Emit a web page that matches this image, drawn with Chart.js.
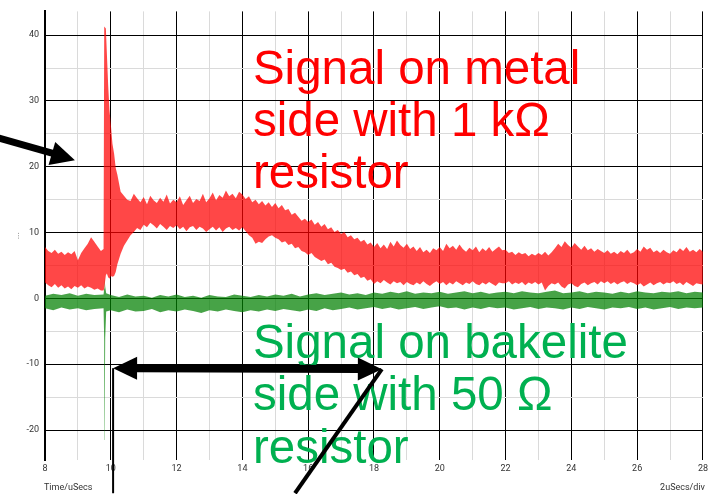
<!DOCTYPE html>
<html>
<head>
<meta charset="utf-8">
<title>Signal on metal and bakelite sides</title>
<script src="https://cdn.jsdelivr.net/npm/chart.js@4.4.1/dist/chart.umd.min.js"></script>
<style>
  html, body { margin: 0; padding: 0; background: #ffffff; }
  #wrap { width: 711px; height: 494px; }
</style>
</head>
<body>
<div id="wrap"><canvas id="scope" width="711" height="494"></canvas></div>
<script>
// Time axis (µs) and min/max envelope of the noisy trace on the metal side (1 kΩ)
const metalTime = [
  8.0, 8.1, 8.2, 8.3, 8.4, 8.5, 8.6, 8.7, 8.8, 8.9,
  9.0, 9.1, 9.2, 9.3, 9.4, 9.5, 9.6, 9.7,
  9.78, 9.8, 9.85, 9.88, 9.92, 9.96, 10.0, 10.05, 10.1, 10.15, 10.2, 10.3, 10.4, 10.5,
  10.6, 10.7, 10.8, 10.9,
  11.0, 11.1, 11.2, 11.3, 11.4, 11.5, 11.6, 11.7, 11.8, 11.9,
  12.0, 12.1, 12.2, 12.3, 12.4, 12.5, 12.6, 12.7, 12.8, 12.9,
  13.0, 13.1, 13.2, 13.3, 13.4, 13.5, 13.6, 13.7, 13.8, 13.9,
  14.0, 14.1, 14.2, 14.3, 14.4, 14.5, 14.6, 14.7, 14.8, 14.9,
  15.0, 15.1, 15.2, 15.3, 15.4, 15.5, 15.6, 15.7, 15.8, 15.9,
  16.0, 16.1, 16.2, 16.3, 16.4, 16.5, 16.6, 16.7, 16.8, 16.9,
  17.0, 17.1, 17.2, 17.3, 17.4, 17.5, 17.6, 17.7, 17.8, 17.9,
  18.0, 18.1, 18.2, 18.3, 18.4, 18.5, 18.6, 18.7, 18.8, 18.9,
  19.0, 19.1, 19.2, 19.3, 19.4, 19.5, 19.6, 19.7, 19.8, 19.9,
  20.0, 20.1, 20.2, 20.3, 20.4, 20.5, 20.6, 20.7, 20.8, 20.9,
  21.0, 21.1, 21.2, 21.3, 21.4, 21.5, 21.6, 21.7, 21.8, 21.9,
  22.0, 22.1, 22.2, 22.3, 22.4, 22.5, 22.6, 22.7, 22.8, 22.9,
  23.0, 23.1, 23.2, 23.3, 23.4, 23.5, 23.6, 23.7, 23.8, 23.9,
  24.0, 24.1, 24.2, 24.3, 24.4, 24.5, 24.6, 24.7, 24.8, 24.9,
  25.0, 25.1, 25.2, 25.3, 25.4, 25.5, 25.6, 25.7, 25.8, 25.9,
  26.0, 26.1, 26.2, 26.3, 26.4, 26.5, 26.6, 26.7, 26.8, 26.9,
  27.0, 27.1, 27.2, 27.3, 27.4, 27.5, 27.6, 27.7, 27.8, 27.9,
  28.0];
const metalUpper = [
  7.8, 7.2, 6.9, 7.4, 6.8, 7.1, 6.6, 7.0, 6.7, 7.2,
  5.8, 6.9, 7.6, 8.3, 9.3, 8.6, 7.9, 7.2,
  7.5, 41.3, 41.0, 37.3, 32.4, 28.6, 26.5, 23.5, 22.0, 19.8, 18.8, 16.2, 15.6, 15.0,
  14.8, 15.9, 15.2, 14.6,
  15.4, 14.3, 15.6, 14.9, 14.5, 15.3, 14.7, 15.8, 14.4, 15.0,
  14.6, 15.5, 14.2, 14.9, 15.6, 14.5, 15.1, 14.8, 15.9, 14.6,
  15.2, 16.1, 14.9, 15.7, 15.3, 16.4, 15.5, 15.9, 15.2, 16.2,
  15.8, 15.1, 15.5, 14.6, 15.0, 14.3, 14.8, 14.1, 14.6, 13.9,
  14.5, 13.7, 14.2, 13.4, 13.6, 12.7, 13.0, 12.4, 11.8, 12.1,
  11.6, 12.0, 11.2, 11.6, 10.9, 11.3, 10.5, 10.8, 10.1, 10.4,
  9.8, 10.1, 9.3, 9.6, 9.0, 9.2, 8.6, 8.9, 8.2, 8.5,
  7.8, 8.4, 7.6, 8.2, 7.5, 8.6, 7.9, 8.8, 8.1, 7.7,
  8.3, 7.5, 7.9, 7.2, 7.8, 7.0, 7.4, 6.9, 7.6, 7.3,
  7.8, 7.2, 8.3, 7.6, 8.0, 7.4, 8.2, 7.5, 7.1, 7.7,
  7.3, 7.9, 7.0, 7.6, 7.2, 7.8, 7.1, 7.5, 7.9, 7.3,
  7.4, 6.9, 7.1, 6.6, 7.0, 6.7, 6.9, 6.4, 6.8, 6.5,
  6.9, 6.6, 7.1, 6.5, 7.0, 7.6, 8.3, 7.8, 8.7, 8.1,
  7.7, 8.4, 7.9, 7.4, 8.0, 7.3, 7.6, 7.1, 7.5, 7.2,
  6.9, 7.3, 6.8, 7.1, 6.7, 7.2, 6.9, 7.4, 6.8, 7.0,
  7.5, 7.1, 7.9, 7.4, 7.7, 7.0, 7.3, 6.9, 7.4, 7.0,
  6.8, 7.3, 7.0, 7.6, 7.2, 7.8, 7.1, 7.4, 7.0, 7.5,
  7.1];
const metalLower = [
  2.4, 2.0, 1.7, 2.2, 1.6, 2.0, 1.5, 1.8, 1.4, 1.9,
  1.6, 2.0, 1.5, 1.8, 1.6, 1.3, 1.5, 1.2,
  1.2, 1.5, 3.5, 3.8, 3.2, 3.0, 3.4, 3.3, 3.4, 4.0, 5.2, 6.8, 8.0, 8.8,
  9.6, 10.1, 10.7, 10.4,
  11.2, 10.8, 11.5, 11.1, 10.6, 11.3, 10.9, 10.4, 11.0, 10.7,
  11.1, 10.5, 10.9, 10.2, 10.8, 11.0, 10.4, 10.9, 10.6, 10.1,
  10.5, 10.9, 10.3, 10.8, 10.1, 10.6, 10.9, 10.4, 10.7, 10.3,
  10.8, 10.2, 9.6, 9.2, 8.3, 8.6, 8.4, 9.0, 9.4, 9.6,
  9.2, 9.0, 8.5, 8.7, 8.1, 8.3, 7.6, 7.8, 7.2, 7.0,
  6.6, 6.9, 6.3, 6.0, 5.7, 5.9, 5.2, 5.4, 4.8, 4.6,
  4.3, 4.5, 3.9, 4.1, 3.5, 3.7, 3.1, 3.3, 2.7, 2.9,
  2.2, 2.6, 2.3, 2.8, 2.4, 2.1, 2.6, 2.3, 2.5, 2.0,
  2.5, 2.2, 2.0, 2.4, 2.1, 2.6, 2.2, 1.9, 2.3, 2.6,
  2.2, 2.5, 2.0, 2.4, 2.1, 2.6, 2.3, 2.0, 2.4, 2.2,
  2.6, 2.2, 2.0, 2.4, 2.1, 2.5, 2.2, 1.9, 2.4, 2.3,
  2.3, 2.6, 2.1, 2.4, 2.2, 2.5, 2.0, 2.4, 2.2, 2.5,
  2.1, 2.4, 1.2, 1.9, 2.3, 2.1, 2.4, 1.8, 1.5, 2.1,
  2.3, 1.9, 1.7, 2.2, 2.4, 2.0, 2.3, 2.5, 2.1, 2.6,
  2.3, 2.6, 2.2, 2.5, 2.1, 2.4, 2.6, 2.2, 2.5, 2.3,
  2.0, 2.3, 1.8, 2.1, 2.4, 2.0, 2.3, 2.5, 2.1, 2.4,
  2.3, 2.6, 2.2, 2.4, 2.0, 2.5, 2.2, 1.9, 2.3, 2.2,
  2.1];

// Min/max envelope of the trace on the bakelite side (50 Ω)
const bakeliteTime = [
  8.0, 8.25, 8.5, 8.75, 9.0, 9.25, 9.5, 9.78, 9.80, 9.81, 9.83, 9.86,
  10.0, 10.25, 10.5, 10.75, 11.0, 11.25, 11.5, 11.75, 12.0, 12.25, 12.5, 12.75,
  13.0, 13.25, 13.5, 13.75, 14.0, 14.25, 14.5, 14.75, 15.0, 15.25, 15.5, 15.75,
  16.0, 16.25, 16.5, 16.75, 17.0, 17.25, 17.5, 17.75, 18.0, 18.25, 18.5, 18.75,
  19.0, 19.25, 19.5, 19.75, 20.0, 20.25, 20.5, 20.75, 21.0, 21.25, 21.5, 21.75,
  22.0, 22.25, 22.5, 22.75, 23.0, 23.25, 23.5, 23.75, 24.0, 24.25, 24.5, 24.75,
  25.0, 25.25, 25.5, 25.75, 26.0, 26.25, 26.5, 26.75, 27.0, 27.25, 27.5, 27.75,
  28.0];
const bakeliteUpper = [
  0.4, 0.7, 0.5, 0.8, 0.4, 0.7, 0.5, 0.6, 1.5, 3.2, 1.8, 0.8,
  0.5, 0.2, 0.6, 0.3, 0.4, 0.1, 0.5, 0.3, 0.6, 0.2, 0.4, 0.1,
  0.5, 0.3, 0.2, 0.6, 0.4, 0.2, 0.5, 0.3, 0.6, 0.4, 0.7, 0.3,
  0.6, 0.8, 0.5, 0.7, 0.9, 0.6, 0.8, 0.5, 0.9, 0.7, 1.0, 0.8,
  1.1, 0.7, 0.9, 0.8, 1.0, 0.7, 0.9, 1.1, 0.8, 1.0, 0.7, 0.9,
  1.0, 0.8, 1.1, 0.9, 0.8, 1.0, 1.2, 0.8, 0.9, 1.1, 0.8, 1.0,
  0.9, 0.7, 1.0, 0.8, 1.1, 0.9, 0.8, 1.0, 0.9, 1.1, 0.8, 1.0,
  0.9];
const bakeliteLower = [
  -1.5, -1.8, -1.4, -1.7, -1.5, -1.8, -1.6, -1.5, -6.5, -21.5, -6.0, -2.0,
  -1.8, -2.1, -1.7, -2.0, -1.9, -1.6, -2.1, -1.8, -2.0, -1.7, -1.9, -2.2,
  -1.8, -2.0, -1.7, -1.9, -2.1, -1.8, -2.0, -1.7, -1.9, -1.6, -1.8, -2.0,
  -1.7, -1.9, -1.5, -1.8, -1.6, -1.4, -1.7, -1.5, -1.3, -1.6, -1.4, -1.7,
  -1.5, -1.3, -1.6, -1.4, -1.2, -1.5, -1.4, -1.7, -1.4, -1.6, -1.3, -1.5,
  -1.4, -1.7, -1.5, -1.3, -1.6, -1.4, -1.5, -1.7, -1.4, -1.6, -1.3, -1.5,
  -1.7, -1.4, -1.5, -1.3, -1.6, -1.4, -1.7, -1.5, -1.3, -1.6, -1.4, -1.5,
  -1.4];

// Grid positions: minor every 1 µs / 5 units, labelled every 2 µs / 10 units
const timeTicks = [8, 9, 10, 11, 12, 13, 14, 15, 16, 17, 18, 19, 20, 21, 22, 23, 24, 25, 26, 27, 28];
const levelTicks = [-20, -15, -10, -5, 0, 5, 10, 15, 20, 25, 30, 35, 40];

// Hand-drawn annotations, placed in axis units (x in µs, y in signal units)
const metalCaption = ['Signal on metal', 'side with 1 kΩ', 'resistor'];
const metalCaptionAt = { x: 14.32, y: [32.56, 24.63, 16.7] };
const bakeliteCaption = ['Signal on bakelite', 'side with 50 Ω', 'resistor'];
const bakeliteCaptionAt = { x: 14.32, y: [-9.04, -16.97, -25.05] };
const pointerArrow = { from: [6.63, 24.3], to: [8.91, 21.0] };
const spanArrow = { from: [10.07, -10.6], to: [18.24, -10.75] };
const leaderLines = [
  { from: [10.07, -10.6], to: [10.07, -29.6], width: 2 },
  { from: [18.24, -10.75], to: [15.6, -29.6], width: 4 }
];

const toPoints = (xs, ys) => xs.map((x, i) => ({ x: x, y: ys[i] }));

function arrowHead(ctx, tipX, tipY, fromX, fromY, len, width) {
  const dx = tipX - fromX, dy = tipY - fromY;
  const d = Math.hypot(dx, dy);
  const ux = dx / d, uy = dy / d;
  const bx = tipX - ux * len, by = tipY - uy * len;
  ctx.beginPath();
  ctx.moveTo(tipX, tipY);
  ctx.lineTo(bx - uy * width / 2, by + ux * width / 2);
  ctx.lineTo(bx + uy * width / 2, by - ux * width / 2);
  ctx.closePath();
  ctx.fill();
  return [bx, by];
}

const annotations = {
  id: 'annotations',
  afterDraw(chart) {
    const ctx = chart.ctx;
    const xs = chart.scales.x, ys = chart.scales.y;
    const px = v => xs.getPixelForValue(v);
    const py = v => ys.getPixelForValue(v);
    const area = chart.chartArea;

    ctx.save();
    // axis captions
    ctx.font = '9px Roboto';
    ctx.fillStyle = '#333';
    ctx.textBaseline = 'alphabetic';
    ctx.textAlign = 'left';
    ctx.fillText('Time/uSecs', area.left - 1, 490);
    ctx.textAlign = 'right';
    ctx.fillText('2uSecs/div', area.right + 2, 490);
    ctx.save();
    ctx.translate(19, (area.top + area.bottom) / 2);
    ctx.rotate(-Math.PI / 2);
    ctx.textAlign = 'center';
    ctx.fillStyle = '#777';
    ctx.fillText('...', 0, 0);
    ctx.restore();

    // large captions
    ctx.font = '47.5px "Liberation Sans", Arial, sans-serif';
    ctx.textAlign = 'left';
    ctx.textBaseline = 'alphabetic';
    ctx.fillStyle = '#ff0000';
    metalCaption.forEach((t, i) => ctx.fillText(t, px(metalCaptionAt.x), py(metalCaptionAt.y[i])));
    ctx.fillStyle = '#00b050';
    bakeliteCaption.forEach((t, i) => ctx.fillText(t, px(bakeliteCaptionAt.x), py(bakeliteCaptionAt.y[i])));

    // arrows
    ctx.fillStyle = '#000';
    ctx.strokeStyle = '#000';
    ctx.lineCap = 'butt';

    // pointer towards the spike
    {
      const x1 = px(pointerArrow.from[0]), y1 = py(pointerArrow.from[1]);
      const x2 = px(pointerArrow.to[0]), y2 = py(pointerArrow.to[1]);
      const [bx, by] = arrowHead(ctx, x2, y2, x1, y1, 24, 24);
      ctx.lineWidth = 7;
      ctx.beginPath();
      ctx.moveTo(x1 - 10, y1 - (y2 - y1) / (x2 - x1) * 10);
      ctx.lineTo(bx + 1, by);
      ctx.stroke();
    }

    // double-headed span arrow
    {
      const x1 = px(spanArrow.from[0]), y1 = py(spanArrow.from[1]);
      const x2 = px(spanArrow.to[0]), y2 = py(spanArrow.to[1]);
      const [b1x, b1y] = arrowHead(ctx, x1, y1, x2, y2, 24, 23);
      const [b2x, b2y] = arrowHead(ctx, x2, y2, x1, y1, 24, 23);
      ctx.lineWidth = 8;
      ctx.beginPath();
      ctx.moveTo(b1x - 1, b1y);
      ctx.lineTo(b2x + 1, b2y);
      ctx.stroke();
    }

    // leader lines
    leaderLines.forEach(l => {
      ctx.lineWidth = l.width;
      ctx.beginPath();
      ctx.moveTo(px(l.from[0]), py(l.from[1]));
      ctx.lineTo(px(l.to[0]), py(l.to[1]));
      ctx.stroke();
    });
    ctx.restore();
  }
};

const envelope = {
  pointRadius: 0,
  borderWidth: 0,
  borderColor: 'rgba(0,0,0,0)',
  tension: 0
};

new Chart(document.getElementById('scope'), {
  type: 'line',
  data: {
    datasets: [
      Object.assign({ label: 'metal min', data: toPoints(metalTime, metalLower), fill: false }, envelope),
      Object.assign({ label: 'metal max', data: toPoints(metalTime, metalUpper), fill: '-1',
        backgroundColor: 'rgba(255,0,0,0.72)' }, envelope),
      Object.assign({ label: 'bakelite min', data: toPoints(bakeliteTime, bakeliteLower), fill: false }, envelope),
      Object.assign({ label: 'bakelite max', data: toPoints(bakeliteTime, bakeliteUpper), fill: '-1',
        backgroundColor: 'rgba(0,128,0,0.72)' }, envelope)
    ]
  },
  options: {
    responsive: false,
    animation: false,
    events: [],
    layout: { padding: { top: 5, right: 8, left: 0, bottom: 0 } },
    plugins: { legend: { display: false }, tooltip: { enabled: false } },
    scales: {
      x: {
        type: 'linear',
        min: 8,
        max: 28,
        afterBuildTicks: s => { s.ticks = timeTicks.map(v => ({ value: v })); },
        afterFit: s => { s.height = 34; },
        border: { display: false },
        grid: {
          drawTicks: false,
          lineWidth: 1,
          color: c => (c.tick && c.tick.value % 2 === 0) ? '#000000' : '#dadada'
        },
        ticks: {
          autoSkip: false,
          maxRotation: 0,
          padding: 3,
          color: '#333',
          font: { family: 'Roboto', size: 9 },
          callback: v => (v % 2 === 0 ? String(v) : '')
        }
      },
      y: {
        type: 'linear',
        min: -24.55,
        max: 43.6,
        afterBuildTicks: s => { s.ticks = levelTicks.map(v => ({ value: v })); },
        afterFit: s => { s.width = 45; },
        border: { display: true, color: '#000', width: 2 },
        grid: {
          drawTicks: false,
          lineWidth: 1,
          color: c => (c.tick && c.tick.value % 10 === 0) ? '#000000' : '#dadada'
        },
        ticks: {
          padding: 6,
          color: '#333',
          font: { family: 'Roboto', size: 9 },
          callback: v => (v % 10 === 0 ? String(v) : '')
        }
      }
    }
  },
  plugins: [annotations]
});
</script>
</body>
</html>
